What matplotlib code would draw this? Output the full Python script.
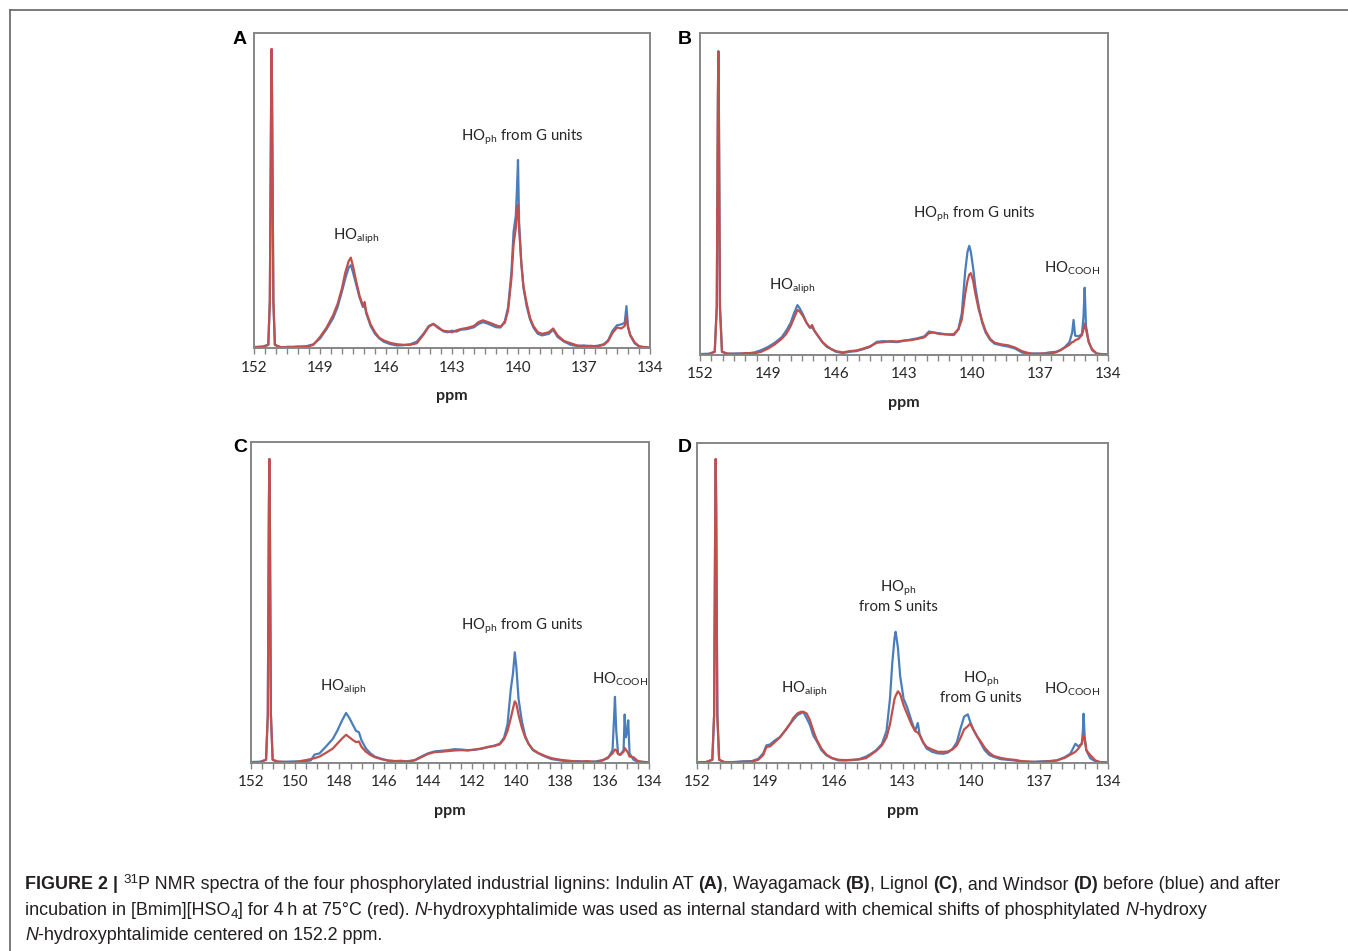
import matplotlib
matplotlib.use("Agg")
import matplotlib.pyplot as plt
from matplotlib.lines import Line2D
import numpy as np

# ---------------- data (intensity in % of axis height) ----------------
ppm_a = [152.0, 151.6, 151.35, 151.28, 151.22, 151.2, 151.18, 151.12, 151.05, 150.8,
         150.4, 150.0, 149.6, 149.3, 149.0, 148.7, 148.4, 148.2, 148.0, 147.85,
         147.7, 147.6, 147.5, 147.35, 147.2, 147.05, 146.97, 146.9, 146.7, 146.5,
         146.3, 146.1, 145.8, 145.5, 145.2, 144.9, 144.6, 144.3, 144.05, 143.85,
         143.6, 143.4, 143.2, 143.0, 142.8, 142.6, 142.3, 142.0, 141.8, 141.6,
         141.4, 141.2, 141.0, 140.8, 140.6, 140.45, 140.3, 140.2, 140.1, 140.05,
         140.0, 139.95, 139.85, 139.75, 139.6, 139.45, 139.3, 139.1, 138.9, 138.6,
         138.4, 138.2, 137.9, 137.6, 137.3, 137.0, 136.7, 136.4, 136.1, 135.9,
         135.7, 135.5, 135.3, 135.15, 135.07, 135.0, 134.9, 134.7, 134.5, 134.3,
         134.0]
blue_a = [0.3, 0.5, 1.0, 15, 80, 94.9, 80, 15, 1.0, 0.2,
          0.4, 0.3, 0.6, 1.2, 3.0, 6.0, 9.5, 13, 18, 22,
          25.5, 26.3, 24, 20, 16, 13, 13.5, 11, 7, 4.5,
          3, 2, 1.2, 0.8, 0.9, 1.2, 2.0, 4.5, 7.0, 7.7,
          6.5, 5.3, 5.0, 5.5, 5.2, 5.8, 6.0, 6.6, 7.6, 8.2,
          7.8, 7.2, 6.6, 6.5, 8.5, 13, 24, 37, 42, 50,
          59.7, 40, 27, 19, 13, 9, 6.5, 4.5, 4.0, 4.5,
          5.8, 3.5, 2.0, 1.0, 0.6, 0.8, 0.5, 0.7, 1.2, 2.5,
          5.5, 7.2, 7.5, 8.0, 13.3, 7.0, 4.0, 1.5, 0.5, 0.2,
          0.1]
red_a = [0.2, 0.3, 1.0, 15, 80, 94.9, 80, 15, 1.0, 0.3,
         0.2, 0.5, 0.4, 1.0, 3.5, 6.5, 10.5, 14, 19, 24,
         27.5, 28.7, 26, 21, 16.5, 13.5, 14.6, 11.5, 7.5, 5,
         3.2, 2.4, 1.6, 1.2, 1.0, 1.0, 1.5, 4.2, 6.8, 7.6,
         6.2, 5.5, 5.3, 5.0, 5.6, 6.0, 6.4, 7.0, 8.2, 8.8,
         8.3, 7.8, 7.2, 6.8, 8.0, 12, 22, 33, 38, 43,
         45.4, 38, 27, 19.5, 14, 9.5, 7.0, 5.0, 4.5, 5.0,
         6.2, 4.0, 2.2, 1.5, 0.8, 0.6, 0.7, 0.5, 1.0, 2.2,
         4.8, 6.5, 6.2, 7.0, 9.9, 6.5, 4.2, 1.8, 0.6, 0.3,
         0.2]

ppm_b = [152.0, 151.6, 151.35, 151.26, 151.21, 151.19, 151.17, 151.12, 151.03, 150.8,
         150.4, 150.0, 149.6, 149.3, 149.0, 148.7, 148.4, 148.2, 148.0, 147.85,
         147.7, 147.6, 147.45, 147.3, 147.15, 147.05, 146.95, 146.8, 146.6, 146.4,
         146.2, 146.0, 145.7, 145.4, 145.1, 144.8, 144.5, 144.2, 143.9, 143.6,
         143.3, 143.0, 142.7, 142.4, 142.1, 141.9, 141.7, 141.5, 141.2, 141.0,
         140.8, 140.6, 140.45, 140.3, 140.2, 140.12, 140.05, 139.95, 139.85, 139.7,
         139.55, 139.4, 139.2, 139.0, 138.7, 138.4, 138.1, 137.8, 137.5, 137.2,
         136.9, 136.6, 136.3, 136.1, 135.9, 135.7, 135.58, 135.52, 135.45, 135.3,
         135.15, 135.08, 135.03, 134.97, 134.85, 134.7, 134.5, 134.3, 134.0]
blue_b = [0.3, 0.4, 1, 15, 80, 94.3, 80, 15, 1, 0.3,
          0.5, 0.4, 0.8, 1.5, 2.5, 3.8, 5.5, 7.5, 10, 13,
          15.5, 14.5, 12.5, 10, 8.5, 8.5, 7.5, 6, 4, 2.5,
          1.8, 1.0, 0.6, 1.0, 1.2, 1.8, 2.5, 4.1, 4.3, 4.1,
          4.0, 4.4, 4.8, 5.2, 5.8, 7.3, 7.0, 6.8, 6.5, 6.3,
          6.2, 8.0, 13, 26, 32, 33.9, 32, 27, 21, 15,
          10, 7, 4.7, 3.5, 3.0, 2.6, 2.0, 0.8, 0.3, 0.5,
          0.4, 0.8, 1.0, 1.5, 2.5, 4.0, 7.0, 10.9, 6.0, 5.8,
          6.5, 12, 20.9, 9, 4, 1.5, 0.4, 0.2, 0.1]
red_b = [0.2, 0.3, 1, 15, 80, 94.3, 80, 15, 1, 0.5,
         0.3, 0.6, 0.5, 1.0, 2.0, 3.3, 5.0, 6.5, 9, 11.5,
         14, 13.5, 12, 10, 8.5, 9.3, 7.5, 6, 4, 2.8,
         1.8, 1.2, 0.8, 1.2, 1.4, 2.0, 2.7, 3.8, 4.0, 4.3,
         4.2, 4.5, 4.6, 5.0, 5.5, 6.8, 7.0, 6.6, 6.4, 6.4,
         6.5, 8.0, 11, 19, 23, 25, 25.4, 23, 19, 14,
         10.5, 7.5, 5, 3.8, 3.3, 3.0, 2.3, 1.2, 0.6, 0.3,
         0.5, 0.4, 0.8, 1.5, 2.3, 3.2, 4.0, 4.1, 4.6, 5.0,
         6.2, 8, 9.8, 8, 4, 1.8, 0.5, 0.3, 0.2]

ppm_c = [152.0, 151.6, 151.32, 151.24, 151.19, 151.17, 151.15, 151.1, 151.02, 150.8,
         150.4, 150.0, 149.6, 149.3, 149.13, 148.9, 148.6, 148.3, 148.1, 147.9,
         147.7, 147.55, 147.4, 147.25, 147.12, 147.0, 146.8, 146.6, 146.4, 146.1,
         145.8, 145.5, 145.2, 144.9, 144.6, 144.3, 144.0, 143.7, 143.4, 143.1,
         142.8, 142.5, 142.2, 141.9, 141.6, 141.3, 141.0, 140.75, 140.55, 140.4,
         140.25, 140.15, 140.07, 140.0, 139.9, 139.75, 139.6, 139.45, 139.25, 139.0,
         138.7, 138.4, 138.0, 137.6, 137.2, 136.8, 136.4, 136.1, 135.85, 135.65,
         135.58, 135.54, 135.48, 135.4, 135.3, 135.15, 135.1, 135.05, 134.98, 134.94,
         134.88, 134.7, 134.5, 134.3, 134.0]
blue_c = [0.3, 0.4, 1, 15, 80, 94.7, 80, 15, 1, 0.3,
          0.4, 0.5, 0.5, 0.8, 2.6, 3.0, 5.2, 7.5, 10, 13,
          15.6, 14, 12, 10, 9.6, 7.0, 4.5, 3.0, 2.0, 1.3,
          0.7, 0.6, 0.4, 0.6, 0.9, 2.0, 3.0, 3.6, 3.8, 4.0,
          4.3, 4.2, 4.0, 4.1, 4.4, 4.9, 5.4, 6.0, 8.0, 12,
          23, 28, 34.5, 30, 20, 13, 8.5, 6.0, 4.0, 3.0,
          2.0, 1.2, 0.8, 0.4, 0.6, 0.3, 0.5, 0.9, 1.5, 4,
          14, 20.6, 10, 3.0, 2.5, 4, 15.1, 8, 10, 13.3,
          3, 1.0, 0.4, 0.3, 0.1]
red_c = [0.3, 0.2, 1, 15, 80, 94.7, 80, 15, 1, 0.5,
         0.3, 0.3, 0.8, 1.2, 1.5, 2.0, 3.2, 4.5, 6.0, 7.5,
         8.8, 8.0, 7.2, 6.5, 6.7, 5.0, 3.5, 2.5, 1.8, 1.2,
         0.8, 0.6, 0.7, 0.4, 0.8, 1.8, 2.8, 3.4, 3.5, 3.7,
         3.9, 4.0, 3.9, 4.2, 4.5, 5.0, 5.3, 5.8, 7.5, 10,
         14, 17, 19.2, 18.5, 15, 11, 8, 6.0, 4.2, 3.1,
         2.2, 1.5, 1.0, 0.7, 0.4, 0.6, 0.3, 0.8, 1.8, 3.0,
         3.8, 4.2, 4.0, 2.8, 2.6, 3.5, 4.7, 4.2, 3.5, 3.0,
         2.0, 1.8, 0.6, 0.4, 0.2]

ppm_d = [152.0, 151.6, 151.33, 151.25, 151.2, 151.18, 151.16, 151.11, 151.03, 150.8,
         150.4, 150.0, 149.6, 149.32, 149.1, 148.96, 148.8, 148.6, 148.37, 148.1,
         147.9, 147.79, 147.6, 147.45, 147.35, 147.2, 147.06, 146.9, 146.77, 146.55,
         146.33, 146.1, 145.8, 145.5, 145.2, 144.9, 144.6, 144.4, 144.15, 143.9,
         143.7, 143.55, 143.45, 143.35, 143.3, 143.2, 143.1, 142.95, 142.8, 142.6,
         142.45, 142.33, 142.25, 142.1, 141.94, 141.7, 141.45, 141.2, 141.0, 140.8,
         140.62, 140.45, 140.3, 140.14, 140.04, 139.9, 139.75, 139.6, 139.4, 139.2,
         139.0, 138.7, 138.4, 138.1, 137.8, 137.5, 137.2, 136.9, 136.6, 136.24,
         135.9, 135.65, 135.5, 135.43, 135.3, 135.15, 135.1, 135.07, 135.02, 134.95,
         134.78, 134.55, 134.34, 134.0]
blue_d = [0.2, 0.3, 1, 15, 80, 95, 80, 15, 1, 0.2,
          0.3, 0.5, 0.6, 1.3, 3.0, 5.5, 5.8, 7.0, 8.1, 10.5,
          12.5, 13.4, 15, 15.5, 16, 14, 12, 8.5, 7.0, 4.0,
          2.4, 1.5, 0.8, 0.8, 0.9, 1.2, 2.0, 2.8, 4.0, 6.0,
          10, 20, 31, 39, 41, 36, 27, 20, 17.5, 13,
          10, 12.5, 9, 6.5, 4.5, 3.5, 3.0, 2.9, 3.3, 4.5,
          6.5, 11, 14.5, 15.2, 13, 10.5, 8.5, 6.6, 4.0, 2.5,
          1.9, 1.2, 1.0, 0.8, 0.5, 0.3, 0.4, 0.5, 0.6, 0.8,
          1.8, 2.9, 5.0, 6.0, 5.2, 6.0, 10, 15.4, 8, 4.0,
          1.5, 0.5, 0.2, 0.1]
red_d = [0.2, 0.3, 1, 15, 80, 95, 80, 15, 1, 0.3,
         0.2, 0.4, 0.4, 1.0, 2.5, 5.0, 5.2, 6.5, 8.0, 10.5,
         12.5, 14, 15.5, 16, 16, 15.5, 13.5, 10, 7.5, 4.5,
         2.6, 1.6, 1.0, 0.9, 1.0, 1.1, 1.5, 2.5, 3.8, 5.5,
         8, 12, 16, 20, 21, 22.4, 21.5, 18, 15.4, 12,
         10, 9.5, 8.7, 6.5, 5, 4.2, 3.5, 3.5, 3.6, 4.3,
         5.5, 8, 10.5, 11.5, 12.3, 10.5, 8.5, 7.0, 4.8, 3.2,
         2.2, 1.6, 1.2, 1.0, 0.6, 0.5, 0.3, 0.4, 0.5, 0.8,
         1.6, 2.6, 3.2, 3.5, 4.5, 6.0, 7.5, 8.7, 7.5, 4.0,
         2.5, 0.8, 0.3, 0.2]

# ---------------- style ----------------
W, H = 1348, 951
plt.rcParams['font.family'] = ['Lato', 'DejaVu Sans']
plt.rcParams['mathtext.fontset'] = 'custom'
plt.rcParams['mathtext.rm'] = 'Lato'
plt.rcParams['mathtext.it'] = 'Lato:italic'
plt.rcParams['mathtext.bf'] = 'Lato:bold'

BLUE = '#4a7ebb'
RED = '#c0504d'
FRAME = '#868686'
TXT = '#262626'

fig = plt.figure(figsize=(W / 100, H / 100), dpi=100)


def px_axes(l, t, r, b):
    return fig.add_axes([l / W, 1 - b / H, (r - l) / W, (b - t) / H])


def ftext(x, y, s, **kw):
    return fig.text(x / W, 1 - y / H, s, **kw)


panels = [
    # letter, box (l, t, r, b), ppm, blue, red, tick step, letter pos
    ('A', (254, 33, 650, 348), ppm_a, blue_a, red_a, 3, (240, 40)),
    ('B', (700, 33, 1108, 355), ppm_b, blue_b, red_b, 3, (685, 40)),
    ('C', (251, 442, 649, 763), ppm_c, blue_c, red_c, 2, (240, 448)),
    ('D', (697, 443, 1108, 763), ppm_d, blue_d, red_d, 3, (685, 448)),
]

for letter, box, ppm, blue, red, step, lpos in panels:
    assert len(ppm) == len(blue) == len(red), letter
    ax = px_axes(*box)
    ax.plot(ppm, blue, color=BLUE, lw=1.6, solid_joinstyle='round')
    ax.plot(ppm, red, color=RED, lw=1.6, solid_joinstyle='round')
    ax.set_xlim(152, 134)
    ax.set_ylim(0, 100)
    ax.set_yticks([])
    ax.set_xticks(np.arange(152, 133.9, -step))
    ax.set_xticks(np.arange(152, 133.9, -0.5), minor=True)
    ax.tick_params(axis='x', which='both', direction='out', length=4, width=1,
                   color=FRAME, pad=5, labelsize=11, labelcolor=TXT)
    for sp in ax.spines.values():
        sp.set_color(FRAME)
        sp.set_linewidth(1.4)
    l, t, r, b = box
    ftext((l + r) / 2, b + 48, 'ppm', ha='center', va='center', fontsize=11.5,
          fontweight='bold', color=TXT)
    ftext(lpos[0], lpos[1], letter, ha='center', va='center', fontsize=14,
          fontweight='bold', color='black', family=['Liberation Sans', 'DejaVu Sans'])

# ---------------- peak labels ----------------
ann = dict(ha='center', va='center', fontsize=10.7, color=TXT)
ftext(356, 236, r'HO$_{\rm aliph}$', **ann)
ftext(522, 137, r'HO$_{\rm ph}$ from G units', **ann)
ftext(792, 286, r'HO$_{\rm aliph}$', **ann)
ftext(974, 214, r'HO$_{\rm ph}$ from G units', **ann)
ftext(1072, 268, r'HO$_{\rm COOH}$', **ann)
ftext(343, 687, r'HO$_{\rm aliph}$', **ann)
ftext(522, 626, r'HO$_{\rm ph}$ from G units', **ann)
ftext(620, 679, r'HO$_{\rm COOH}$', **ann)
ftext(804, 689, r'HO$_{\rm aliph}$', **ann)
ftext(898, 588, r'HO$_{\rm ph}$', **ann)
ftext(898, 607, 'from S units', **ann)
ftext(981, 679, r'HO$_{\rm ph}$', **ann)
ftext(981, 698, 'from G units', **ann)
ftext(1072, 689, r'HO$_{\rm COOH}$', **ann)

# ---------------- outer frame ----------------
fig.add_artist(Line2D([10 / W, 1], [1 - 10 / H, 1 - 10 / H], transform=fig.transFigure,
                      color='#707070', lw=1.3))
fig.add_artist(Line2D([10 / W, 10 / W], [1 - 10 / H, 0], transform=fig.transFigure,
                      color='#707070', lw=1.3))

# ---------------- caption ----------------
CAP = ['Liberation Sans', 'DejaVu Sans']
cap_size = 12.9
renderer = fig.canvas.get_renderer()


def width_of(s, **kw):
    t1 = fig.text(0, 0, '|' + s + '|', **kw)
    t2 = fig.text(0, 0, '||', **kw)
    w = t1.get_window_extent(renderer).width - t2.get_window_extent(renderer).width
    t1.remove()
    t2.remove()
    return w


def runs(x, y, parts):
    for s, style in parts:
        kw = dict(family=CAP, fontsize=cap_size, color='#231f20')
        dy = 0
        if style == 'b':
            kw['fontweight'] = 'bold'
        elif style == 'i':
            kw['fontstyle'] = 'italic'
        elif style == 'sup':
            kw['fontsize'] = cap_size * 0.75
            dy = -6
        elif style == 'sub':
            kw['fontsize'] = cap_size * 0.75
            dy = 3
        ftext(x, y + dy, s, va='baseline', ha='left', **kw)
        x += width_of(s, **kw)


runs(25, 889, [('FIGURE 2 |', 'b'), (' ', ''), ('31', 'sup'),
               ('P NMR spectra of the four phosphorylated industrial lignins: Indulin AT ', ''),
               ('(A)', 'b'), (', Wayagamack ', ''), ('(B)', 'b'), (', Lignol ', ''),
               ('(C)', 'b'), (', and Windsor ', ''), ('(D)', 'b'),
               (' before (blue) and after', '')])
runs(25, 915, [('incubation in [Bmim][HSO', ''), ('4', 'sub'),
               ('] for 4\u2009h at 75\u00b0C (red). ', ''), ('N', 'i'),
               ('-hydroxyphtalimide was used as internal standard with chemical shifts of '
                'phosphitylated ', ''), ('N', 'i'), ('-hydroxy', '')])
runs(25, 940, [('N', 'i'), ('-hydroxyphtalimide centered on 152.2 ppm.', '')])

fig.savefig('out.png', dpi=100)
